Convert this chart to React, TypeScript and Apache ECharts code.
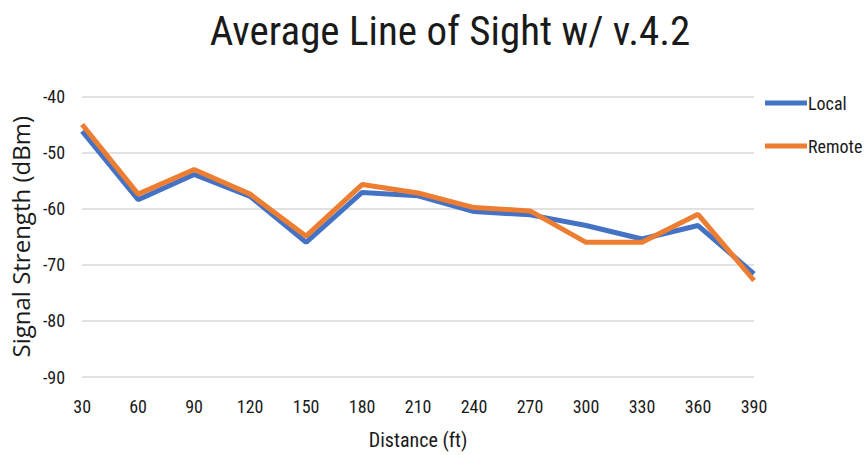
import React, { useEffect, useRef } from "react";
import * as echarts from "echarts";

const distances = ["30", "60", "90", "120", "150", "180", "210", "240", "270", "300", "330", "360", "390"];
const localValues = [-46.2, -58.4, -53.9, -57.8, -66.0, -57.1, -57.7, -60.5, -61.1, -63.0, -65.4, -63.0, -71.6];
const remoteValues = [-45.0, -57.4, -53.0, -57.4, -64.9, -55.7, -57.2, -59.8, -60.4, -66.0, -66.0, -61.0, -72.8];

const NARROW = "'Liberation Sans Narrow', 'Arial Narrow', 'Roboto Condensed', Lato, sans-serif";

export default function App() {
  const ref = useRef<HTMLDivElement>(null);
  useEffect(() => {
    if (!ref.current) return;
    const chart = echarts.init(ref.current, undefined, { renderer: "svg" });
    chart.setOption({
      animation: false,
      backgroundColor: "#ffffff",
      title: {
        text: "Average Line of Sight w/ v.4.2",
        left: 445,
        top: 5,
        textAlign: "center",
        textStyle: { fontFamily: NARROW, fontSize: 41, fontWeight: "normal", color: "#1a1a1a" },
      },
      legend: {
        orient: "vertical",
        left: 760,
        top: 89,
        itemWidth: 42,
        itemHeight: 5,
        itemGap: 25,
        icon: "rect",
        textStyle: { fontFamily: NARROW, fontSize: 18, color: "#1a1a1a", padding: [0, 0, 0, -4] },
        data: ["Local", "Remote"],
      },
      grid: { left: 82, right: 114, top: 96.5, bottom: 78, containLabel: false },
      xAxis: {
        type: "category",
        data: distances,
        boundaryGap: false,
        axisLine: { show: false },
        axisTick: { show: false },
        axisLabel: { fontFamily: NARROW, fontSize: 18, color: "#1a1a1a", margin: 20 },
        name: "Distance (ft)",
        nameLocation: "middle",
        nameGap: 53,
        nameTextStyle: { fontFamily: NARROW, fontSize: 20, color: "#1a1a1a" },
      },
      yAxis: {
        type: "value",
        min: -90,
        max: -40,
        interval: 10,
        axisLine: { show: false },
        axisTick: { show: false },
        splitLine: { lineStyle: { color: "#d9d9d9", width: 1.5 } },
        axisLabel: { fontFamily: NARROW, fontSize: 18, color: "#1a1a1a", margin: 17 },
        name: "Signal Strength (dBm)",
        nameLocation: "middle",
        nameGap: 47,
        nameRotate: 90,
        nameTextStyle: { fontFamily: "'Open Sans', 'Noto Sans', sans-serif", fontSize: 24, color: "#1a1a1a" },
      },
      series: [
        {
          name: "Local",
          type: "line",
          data: localValues,
          symbol: "none",
          lineStyle: { color: "#4472C4", width: 5 },
          itemStyle: { color: "#4472C4" },
        },
        {
          name: "Remote",
          type: "line",
          data: remoteValues,
          symbol: "none",
          lineStyle: { color: "#ED7D31", width: 5 },
          itemStyle: { color: "#ED7D31" },
        },
      ],
    });
    return () => chart.dispose();
  }, []);
  return <div ref={ref} style={{ width: 868, height: 455, position: "absolute", left: 0, top: 0 }} />;
}
